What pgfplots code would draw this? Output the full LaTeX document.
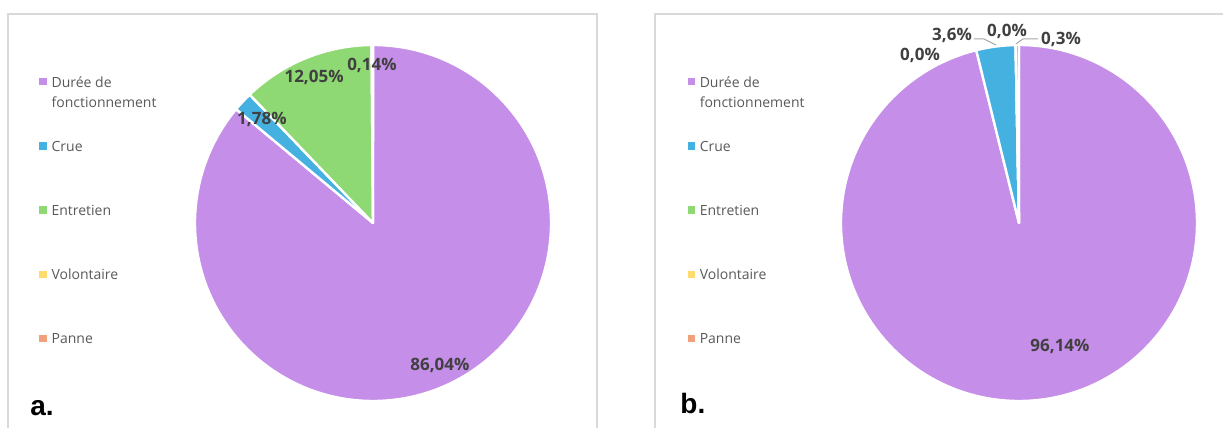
\documentclass[border=0pt]{standalone}
\usepackage{fontspec}
\setmainfont{Open Sans}
\newfontfamily\arialfont{Liberation Sans}
\usepackage{pgfplots}
\pgfplotsset{compat=1.18}

\definecolor{cDur}{RGB}{197,142,232}
\definecolor{cCrue}{RGB}{69,177,225}
\definecolor{cEnt}{RGB}{142,217,115}
\definecolor{cVol}{RGB}{255,218,110}
\definecolor{cPan}{RGB}{240,160,124}
\definecolor{legtext}{RGB}{89,89,89}
\definecolor{labtext}{RGB}{64,64,64}
\definecolor{framegray}{RGB}{217,217,217}
\definecolor{leader}{RGB}{166,166,166}

% one wedge: start (%), share (%), colour -- clockwise from 12 o'clock
\newcommand{\slice}[3]{%
  \fill[#3, draw=white, line width=1.2pt, line join=round]
    (axis cs:0,0) -- (axis cs:{cos(90-3.6*(#1))},{sin(90-3.6*(#1))})
    arc[start angle={90-3.6*(#1)}, end angle={90-3.6*(#1+#2)}, radius=89pt] -- cycle;}

\tikzset{lab/.style={font=\bfseries\fontsize{8.5pt}{9pt}\selectfont, text=labtext, inner sep=0pt}}
\pgfplotsset{
  sqleg/.style={legend image code/.code={\fill (0pt,-1.6pt) rectangle (3.2pt,1.6pt);}},
  pie/.style={
    anchor=center, scale only axis, width=178pt, height=178pt,
    xmin=-1, xmax=1, ymin=-1, ymax=1, hide axis, clip=false,
    legend cell align=left,
    legend style={draw=none, fill=none, anchor=north west,
      font=\fontsize{7pt}{10pt}\selectfont, text=legtext,
      row sep=21.6pt, column sep=1.5pt, nodes={inner sep=1pt}},
  },
}
\newcommand{\legentries}{%
  \addlegendimage{cDur, sqleg}
  \addlegendentry{\strut\smash{\begin{tabular}[t]{@{}l@{}}Durée de\\fonctionnement\end{tabular}}}
  \addlegendimage{cCrue, sqleg}\addlegendentry{\strut Crue}
  \addlegendimage{cEnt, sqleg}\addlegendentry{\strut Entretien}
  \addlegendimage{cVol, sqleg}\addlegendentry{\strut Volontaire}
  \addlegendimage{cPan, sqleg}\addlegendentry{\strut Panne}
}

\begin{document}
\begin{tikzpicture}
\useasboundingbox (0,0) rectangle (611.5pt,-214pt);
\draw[framegray, line width=0.6pt] (4pt,-216pt) -- (4pt,-7pt) -- (298.5pt,-7pt) -- (298.5pt,-216pt);
\draw[framegray, line width=0.6pt] (327.5pt,-216pt) -- (327.5pt,-7pt) -- (613pt,-7pt);

% ---- a.
\begin{axis}[pie, at={(186.5pt,-111.5pt)},
  legend style={at={(-0.455,0.939)}}]
\legentries
\slice{0}{86.04}{cDur}
\slice{86.04}{1.78}{cCrue}
\slice{87.82}{12.05}{cEnt}
\slice{99.87}{0.14}{cVol}
\slice{100}{0}{cPan}
\node[lab] at (axis cs:-0.006,0.888) {0,14\%};
\node[lab] at (axis cs:-0.331,0.815) {12,05\%};
\node[lab] at (axis cs:-0.624,0.579) {1,78\%};
\node[lab] at (axis cs:0.376,-0.798) {86,04\%};
\end{axis}

% ---- b.
\begin{axis}[pie, at={(509.5pt,-111.5pt)},
  legend style={at={(-0.449,0.939)}}]
\legentries
\slice{0}{96.14}{cDur}
\slice{96.14}{3.56}{cCrue}
\slice{99.70}{0}{cEnt}
\slice{99.70}{0}{cVol}
\slice{99.70}{0.30}{cPan}
\draw[leader, line width=0.5pt] (axis cs:-0.253,1.034) -- (axis cs:-0.197,1.034) -- (axis cs:-0.129,1.0);
\draw[leader, line width=0.5pt] (axis cs:-0.017,1.006) -- (axis cs:0.022,1.034) -- (axis cs:0.107,1.034);
\node[lab] at (axis cs:0.230,-0.691) {96,14\%};
\node[lab] at (axis cs:-0.556,0.944) {0,0\%};
\node[lab] at (axis cs:-0.376,1.056) {3,6\%};
\node[lab] at (axis cs:-0.067,1.079) {0,0\%};
\node[lab] at (axis cs:0.236,1.034) {0,3\%};
\end{axis}

\node[anchor=base west, inner sep=0pt, font=\arialfont\bfseries\fontsize{14pt}{16pt}\selectfont] at (15pt,-207.5pt) {a.};
\node[anchor=base west, inner sep=0pt, font=\arialfont\bfseries\fontsize{14pt}{16pt}\selectfont] at (340pt,-206.5pt) {b.};
\end{tikzpicture}
\end{document}
